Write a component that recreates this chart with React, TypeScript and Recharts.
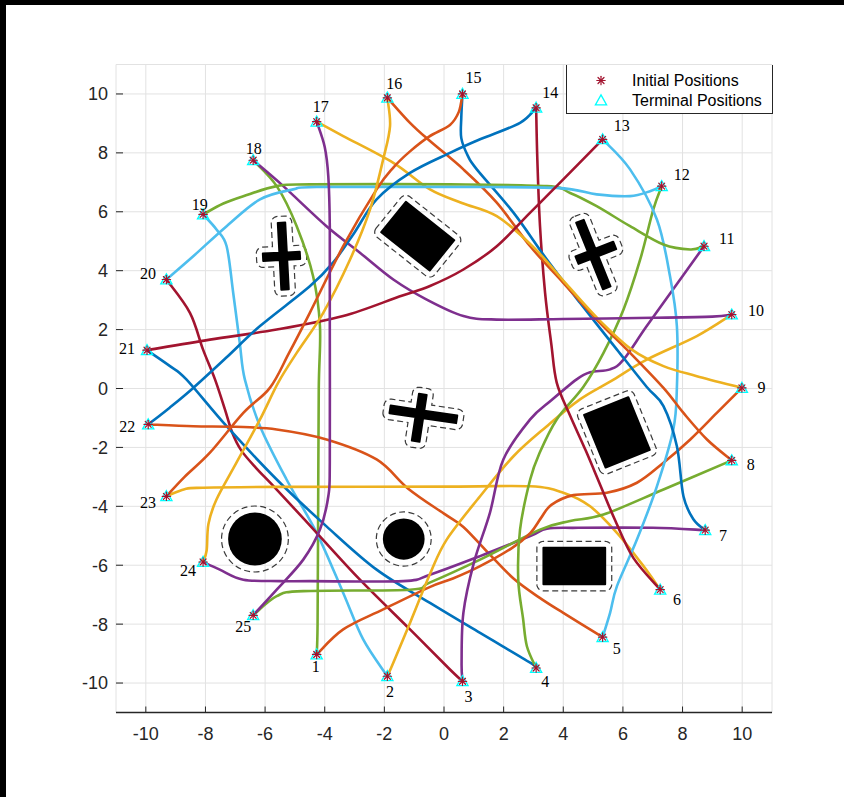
import React from 'react';
import {
  ComposedChart,
  Line,
  Scatter,
  XAxis,
  YAxis,
  CartesianGrid,
  ReferenceArea,
  Legend,
} from 'recharts';

type XY = [number, number];

// ---- axes ----
const DOMAIN: XY = [-11, 11];
const X_TICKS = [-10, -8, -6, -4, -2, 0, 2, 4, 6, 8, 10];
const Y_TICKS = [-10, -8, -6, -4, -2, 0, 2, 4, 6, 8, 10];

// ---- agents (initial and terminal positions coincide on the ring) ----
const agentLabels = ['1', '2', '3', '4', '5', '6', '7', '8', '9', '10', '11', '12', '13', '14', '15', '16', '17', '18', '19', '20', '21', '22', '23', '24', '25'];
const agentX = [-4.27, -1.9, 0.62, 3.09, 5.32, 7.25, 8.76, 9.65, 9.99, 9.65, 8.72, 7.3, 5.32, 3.09, 0.62, -1.9, -4.27, -6.4, -8.08, -9.31, -9.96, -9.92, -9.31, -8.08, -6.4];
const agentY = [-9.03, -9.77, -9.94, -9.49, -8.44, -6.83, -4.81, -2.44, 0.02, 2.51, 4.83, 6.87, 8.46, 9.53, 10.0, 9.87, 9.06, 7.75, 5.91, 3.7, 1.3, -1.22, -3.66, -5.89, -7.7];

// label placement next to each agent, in pixels
const labelOffsets: XY[] = [
  [-1, 12.5], [2.7, 15], [6, 15], [9, 13.4], [14, 11.6], [16.7, 10], [17.7, 5.3], [19, 4], [19.5, 0],
  [24.3, -4.3], [22.7, -7.7], [20, -11.7], [19, -14.3], [14, -15], [11, -16], [7, -14.3], [4, -15],
  [0.7, -11.4], [-3.3, -10], [-18.4, -6], [-20, -1.4], [-21, 1.7], [-18.4, 6], [-15, 8.4], [-10, 11],
];

// ---- trajectories ----
const path1to9: XY[] = [[-4.27, -9.03], [-3.38, -8.18], [-2.04, -7.5], [-0.5, -6.75], [0.3, -6.45], [1.21, -6.03], [2.3, -5.4], [2.9, -4.9], [3.25, -4.4], [3.6, -3.95], [4.34, -3.62], [5.46, -3.54], [6.47, -3.2], [7.36, -2.52], [8.26, -1.73], [9.15, -0.83], [9.99, 0.02]];
const path10to2: XY[] = [[9.65, 2.51], [8.48, 1.78], [6.8, 0.98], [5.6, 0.25], [4.56, -0.37], [3.45, -1.28], [2.33, -2.3], [1.21, -3.66], [0.09, -5.13], [-0.47, -6.3], [-1.14, -7.96], [-1.7, -9.31], [-1.9, -9.77]];
const path11to3: XY[] = [[8.72, 4.83], [7.92, 3.7], [6.8, 2.12], [6.02, 0.98], [5.57, 0.65], [4.9, 0.55], [4.45, 0.31], [3.6, -0.4], [2.89, -1.05], [1.99, -2.41], [1.54, -4.22], [1.0, -5.92], [0.65, -7.62], [0.59, -9.31], [0.62, -9.94]];
const path12to4: XY[] = [[7.3, 6.87], [7.02, 6.08], [6.58, 4.38], [6.02, 2.68], [5.35, 1.21], [4.67, 0.05], [3.78, -1.05], [3.2, -2.2], [2.89, -3.09], [2.55, -4.79], [2.49, -6.49], [2.65, -7.8], [2.78, -8.75], [3.09, -9.49]];
const path13to5: XY[] = [[5.32, 8.46], [6.24, 7.44], [7.14, 5.74], [7.58, 3.81], [7.81, 2.12], [7.81, 0.02], [7.69, -1.39], [7.14, -3.32], [6.47, -5.13], [5.8, -6.71], [5.57, -7.62], [5.32, -8.44]];
const path14to6: XY[] = [[3.09, 9.53], [3.13, 7.78], [3.22, 5.51], [3.39, 3.25], [3.6, 1.5], [3.78, 0.2], [4.22, -0.9], [4.75, -2.1], [5.25, -3.3], [5.75, -4.5], [6.35, -5.75], [7.25, -6.83]];
const path15to7: XY[] = [[0.62, 10.0], [0.58, 9.2], [0.58, 8.5], [0.8, 7.9], [1.1, 7.44], [2.33, 5.97], [3.45, 4.38], [4.56, 2.91], [5.8, 1.32], [6.8, 0.05], [7.36, -0.6], [7.81, -1.96], [8.03, -3.66], [8.37, -4.45], [8.76, -4.81]];
const path16to8: XY[] = [[-1.9, 9.87], [-1.14, 9.02], [-0.47, 8.4], [0.65, 7.44], [1.77, 6.31], [2.89, 4.83], [4.0, 3.59], [5.12, 2.34], [6.24, 1.21], [7.36, 0.02], [8.03, -0.83], [8.82, -1.73], [9.65, -2.44]];
const path17to9: XY[] = [[-4.27, 9.06], [-3.38, 8.57], [-1.7, 7.66], [-0.47, 6.76], [0.6, 6.3], [1.77, 5.85], [3.0, 4.8], [4.1, 3.55], [5.2, 2.33], [6.3, 1.32], [7.36, 0.76], [8.48, 0.42], [9.99, 0.02]];
const path18to10: XY[] = [[-6.4, 7.75], [-5.39, 6.87], [-3.94, 5.51], [-2.82, 4.61], [-1.7, 3.7], [-0.58, 3.02], [0.65, 2.46], [1.77, 2.34], [4.0, 2.36], [7.0, 2.4], [9.0, 2.44], [9.65, 2.51]];
const path19to11: XY[] = [[-8.08, 5.91], [-7.4, 6.28], [-6.73, 6.53], [-5.61, 6.87], [-4.5, 6.93], [0.2, 6.93], [3.45, 6.87], [4.23, 6.64], [5.12, 6.19], [6.24, 5.51], [7.36, 4.89], [8.26, 4.72], [8.72, 4.83]];
const path20to12: XY[] = [[-9.31, 3.7], [-8.41, 4.49], [-7.29, 5.51], [-6.17, 6.42], [-5.06, 6.76], [-4.27, 6.84], [0.2, 6.84], [3.78, 6.81], [5.12, 6.59], [6.24, 6.53], [6.91, 6.7], [7.3, 6.87]];
const path13to21: XY[] = [[5.32, 8.46], [4.0, 7.1], [2.89, 5.97], [1.77, 4.83], [0.65, 4.04], [-0.47, 3.48], [-1.5, 3.12], [-3.38, 2.46], [-5.61, 2.0], [-7.85, 1.66], [-9.96, 1.3]];
const path14to22: XY[] = [[3.09, 9.53], [2.55, 9.02], [1.21, 8.46], [0.2, 8.0], [-1.14, 7.32], [-2.26, 6.42], [-3.0, 5.3], [-3.7, 4.3], [-4.5, 3.47], [-6.17, 2.12], [-7.3, 1.05], [-8.41, 0.02], [-9.2, -0.65], [-9.92, -1.22]];
const path15to23: XY[] = [[0.62, 10.0], [0.5, 9.4], [0.2, 8.95], [-0.5, 8.55], [-1.14, 8.05], [-1.7, 7.5], [-2.26, 6.76], [-3.38, 4.83], [-4.5, 2.57], [-5.2, 1.2], [-5.84, 0.02], [-6.73, -0.83], [-7.85, -2.18], [-8.7, -3.0], [-9.31, -3.66]];
const path16to24: XY[] = [[-1.9, 9.87], [-1.81, 8.91], [-2.04, 7.78], [-2.48, 6.08], [-3.15, 4.38], [-4.05, 2.57], [-4.94, 1.21], [-5.56, 0.2], [-6.17, -1.05], [-6.96, -2.52], [-7.63, -3.77], [-7.9, -4.6], [-7.96, -5.5], [-8.08, -5.89]];
const path17to25: XY[] = [[-4.27, 9.06], [-4.0, 8.2], [-3.88, 7.2], [-3.83, 5.51], [-3.83, 2.12], [-3.83, -2.52], [-3.88, -3.66], [-4.16, -4.79], [-4.72, -5.81], [-5.61, -6.83], [-6.4, -7.7]];
const path18to1: XY[] = [[-6.4, 7.75], [-5.61, 6.87], [-4.94, 5.51], [-4.39, 3.81], [-4.16, 2.12], [-4.2, 0.0], [-4.22, -4.0], [-4.24, -8.0], [-4.27, -9.03]];
const path19to2: XY[] = [[-8.08, 5.91], [-7.63, 5.4], [-7.29, 4.83], [-7.07, 3.25], [-6.85, 1.55], [-6.68, 0.31], [-6.17, -1.28], [-5.28, -3.09], [-4.27, -4.9], [-3.38, -6.94], [-2.71, -8.52], [-1.9, -9.77]];
const path20to3: XY[] = [[-9.31, 3.7], [-8.52, 2.57], [-8.08, 1.32], [-7.68, 0.31], [-7.35, -0.7], [-7.1, -1.5], [-6.8, -2.1], [-6.3, -2.7], [-5.61, -3.43], [-4.27, -4.9], [-2.82, -6.49], [-1.14, -8.18], [0.2, -9.54], [0.62, -9.94]];
const path21to4: XY[] = [[-9.96, 1.3], [-9.19, 0.76], [-8.64, 0.31], [-7.29, -1.28], [-5.61, -3.09], [-3.94, -4.68], [-2.26, -6.15], [-0.47, -7.28], [1.21, -8.3], [2.89, -9.31], [3.09, -9.49]];
const path22to5: XY[] = [[-9.92, -1.22], [-8.41, -1.28], [-7.0, -1.3], [-5.61, -1.39], [-3.94, -1.73], [-2.26, -2.41], [-1.2, -3.4], [0.0, -4.25], [0.65, -4.7], [1.5, -5.6], [2.33, -6.45], [3.2, -7.1], [4.0, -7.62], [5.32, -8.44]];
const path23to6: XY[] = [[-9.31, -3.66], [-8.7, -3.42], [-8.08, -3.37], [-5.61, -3.34], [0.2, -3.33], [2.89, -3.32], [4.0, -3.54], [4.9, -4.0], [5.8, -4.9], [6.69, -6.03], [7.25, -6.83]];
const path24to7: XY[] = [[-8.08, -5.89], [-7.52, -6.15], [-6.73, -6.49], [-5.5, -6.54], [-4.5, -6.54], [-1.37, -6.54], [-0.47, -6.32], [1.21, -5.69], [2.89, -5.01], [3.45, -4.76], [4.5, -4.73], [7.0, -4.73], [8.76, -4.81]];
const path25to8: XY[] = [[-6.4, -7.7], [-5.61, -7.05], [-4.72, -6.88], [-1.14, -6.83], [-0.5, -6.6], [1.21, -5.81], [3.22, -4.79], [4.23, -4.5], [5.35, -4.28], [7.36, -3.43], [9.65, -2.44]];

// ---- obstacles ----
const obstacleRects = [
  { cx: -0.88, cy: 5.17, w: 2.08, h: 1.32, angle: -38.7 },
  { cx: 5.8, cy: -1.49, w: 1.6, h: 1.93, angle: 22 },
  { cx: 4.37, cy: -6.03, w: 2.07, h: 1.24, angle: 0 },
];
const obstacleCircles = [
  { cx: -6.34, cy: -5.11, r: 0.9 },
  { cx: -1.35, cy: -5.11, r: 0.7 },
];
const obstacleCrosses = [
  { cx: -5.39, cy: 4.49, angle: -87, armA: [-1.14, 1.13], armB: [-0.68, 0.56], w: 0.25 },
  { cx: 5.0, cy: 4.57, angle: -68.3, armA: [-1.19, 1.24], armB: [-0.58, 0.78], w: 0.27 },
  { cx: -0.81, cy: -0.86, angle: -8.6, armA: [-1.01, 1.25], armB: [-0.94, 0.67], w: 0.26 },
];
const SAFETY_MARGIN = 0.22;

const COLORS = {
  blue: '#0072BD',
  orange: '#D95319',
  yellow: '#EDB120',
  purple: '#7E2F8E',
  green: '#77AC30',
  sky: '#4DBEEE',
  crimson: '#A2142F',
};

const toPoints = (p: XY[]) => p.map(([x, y]) => ({ x, y }));

const trajectories = [
  { id: 't1', data: toPoints(path18to1), color: COLORS.green },
  { id: 't2', data: toPoints(path19to2), color: COLORS.sky },
  { id: 't3', data: toPoints(path20to3), color: COLORS.crimson },
  { id: 't4', data: toPoints(path21to4), color: COLORS.blue },
  { id: 't5', data: toPoints(path22to5), color: COLORS.orange },
  { id: 't6', data: toPoints(path23to6), color: COLORS.yellow },
  { id: 't7', data: toPoints(path24to7), color: COLORS.purple },
  { id: 't8', data: toPoints(path25to8), color: COLORS.green },
  { id: 't9', data: toPoints(path1to9), color: COLORS.orange },
  { id: 't10', data: toPoints(path10to2), color: COLORS.yellow },
  { id: 't11', data: toPoints(path11to3), color: COLORS.purple },
  { id: 't12', data: toPoints(path12to4), color: COLORS.green },
  { id: 't13', data: toPoints(path13to5), color: COLORS.sky },
  { id: 't14', data: toPoints(path14to6), color: COLORS.crimson },
  { id: 't15', data: toPoints(path15to7), color: COLORS.blue },
  { id: 't16', data: toPoints(path16to8), color: COLORS.orange },
  { id: 't17', data: toPoints(path17to9), color: COLORS.yellow },
  { id: 't18', data: toPoints(path18to10), color: COLORS.purple },
  { id: 't19', data: toPoints(path19to11), color: COLORS.green },
  { id: 't20', data: toPoints(path20to12), color: COLORS.sky },
  { id: 't21', data: toPoints(path13to21), color: COLORS.crimson },
  { id: 't22', data: toPoints(path14to22), color: COLORS.blue },
  { id: 't23', data: toPoints(path15to23), color: COLORS.orange },
  { id: 't24', data: toPoints(path16to24), color: COLORS.yellow },
  { id: 't25', data: toPoints(path17to25), color: COLORS.purple },
];

const agents = agentX.map((x, i) => ({ x, y: agentY[i], i }));

// Catmull-Rom spline through every waypoint (d3 curve-factory interface)
const throughPoints = (context: any) => {
  let pts: XY[] = [];
  return {
    areaStart() {},
    areaEnd() {},
    lineStart() {
      pts = [];
    },
    point(x: number, y: number) {
      pts.push([+x, +y]);
    },
    lineEnd() {
      const n = pts.length;
      if (!n) return;
      context.moveTo(pts[0][0], pts[0][1]);
      for (let i = 0; i < n - 1; i++) {
        const p0 = pts[Math.max(i - 1, 0)];
        const p1 = pts[i];
        const p2 = pts[i + 1];
        const p3 = pts[Math.min(i + 2, n - 1)];
        context.bezierCurveTo(
          p1[0] + (p2[0] - p0[0]) / 6,
          p1[1] + (p2[1] - p0[1]) / 6,
          p2[0] - (p3[0] - p1[0]) / 6,
          p2[1] - (p3[1] - p1[1]) / 6,
          p2[0],
          p2[1],
        );
      }
    },
  };
};

// ---- geometry helpers for obstacles ----
const rot = (u: number, v: number, deg: number): XY => {
  const a = (deg * Math.PI) / 180;
  return [u * Math.cos(a) - v * Math.sin(a), u * Math.sin(a) + v * Math.cos(a)];
};

const place = (local: XY[], cx: number, cy: number, angle: number): XY[] =>
  local.map(([u, v]) => {
    const [dx, dy] = rot(u, v, angle);
    return [cx + dx, cy + dy];
  });

const rectPolygon = (o: any): XY[] => {
  const hw = o.w / 2;
  const hh = o.h / 2;
  return place([[-hw, -hh], [hw, -hh], [hw, hh], [-hw, hh]], o.cx, o.cy, o.angle);
};

const crossPolygon = (o: any): XY[] => {
  const h = o.w / 2;
  const [a0, a1] = o.armA;
  const [b0, b1] = o.armB;
  return place(
    [[a0, -h], [-h, -h], [-h, b0], [h, b0], [h, -h], [a1, -h], [a1, h], [h, h], [h, b1], [-h, b1], [-h, h], [a0, h]],
    o.cx,
    o.cy,
    o.angle,
  );
};

// outline at distance d around a counter-clockwise polygon, rounded at convex corners
const inflate = (poly: XY[], d: number, steps = 8): XY[] => {
  const n = poly.length;
  const out: XY[] = [];
  const unit = (a: XY, b: XY): XY => {
    const dx = b[0] - a[0];
    const dy = b[1] - a[1];
    const l = Math.hypot(dx, dy) || 1;
    return [dx / l, dy / l];
  };
  for (let i = 0; i < n; i++) {
    const p0 = poly[(i - 1 + n) % n];
    const p1 = poly[i];
    const p2 = poly[(i + 1) % n];
    const t1 = unit(p0, p1);
    const t2 = unit(p1, p2);
    const n1: XY = [t1[1], -t1[0]];
    const n2: XY = [t2[1], -t2[0]];
    const turn = t1[0] * t2[1] - t1[1] * t2[0];
    if (turn > 1e-9) {
      const s = Math.atan2(n1[1], n1[0]);
      let e = Math.atan2(n2[1], n2[0]);
      while (e < s) e += 2 * Math.PI;
      for (let k = 0; k <= steps; k++) {
        const a = s + ((e - s) * k) / steps;
        out.push([p1[0] + d * Math.cos(a), p1[1] + d * Math.sin(a)]);
      }
    } else if (turn < -1e-9) {
      const dot = n1[0] * n2[0] + n1[1] * n2[1];
      const s = d / (1 + dot);
      out.push([p1[0] + (n1[0] + n2[0]) * s, p1[1] + (n1[1] + n2[1]) * s]);
    } else {
      out.push([p1[0] + n1[0] * d, p1[1] + n1[1] * d]);
    }
  }
  return out;
};

const renderObstacles = (props: any) => {
  const { x, y, width, height } = props;
  const span = DOMAIN[1] - DOMAIN[0];
  const px = (v: number) => x + ((v - DOMAIN[0]) / span) * width;
  const py = (v: number) => y + ((DOMAIN[1] - v) / span) * height;
  const toPath = (poly: XY[]) =>
    poly.map(([a, b], i) => `${i ? 'L' : 'M'}${px(a).toFixed(2)},${py(b).toFixed(2)}`).join('') + 'Z';
  const polys = [...obstacleRects.map(rectPolygon), ...obstacleCrosses.map(crossPolygon)];
  const sx = width / span;
  const sy = height / span;
  return (
    <g className="obstacles">
      {polys.map((poly, i) => (
        <g key={`p${i}`}>
          <path d={toPath(inflate(poly, SAFETY_MARGIN))} fill="none" stroke="#3a3a3a" strokeWidth={1.2} strokeDasharray="6 3.5" />
          <path d={toPath(poly)} fill="#000" stroke="#000" strokeWidth={2} strokeLinejoin="round" />
        </g>
      ))}
      {obstacleCircles.map((c, i) => (
        <g key={`c${i}`}>
          <ellipse
            cx={px(c.cx)}
            cy={py(c.cy)}
            rx={(c.r + SAFETY_MARGIN) * sx}
            ry={(c.r + SAFETY_MARGIN) * sy}
            fill="none"
            stroke="#3a3a3a"
            strokeWidth={1.2}
            strokeDasharray="6 3.5"
          />
          <ellipse cx={px(c.cx)} cy={py(c.cy)} rx={c.r * sx} ry={c.r * sy} fill="#000" />
        </g>
      ))}
    </g>
  );
};

const Asterisk = ({ cx, cy }: { cx: number; cy: number }) => {
  const r = 4.2;
  const q = 3.0;
  return (
    <g stroke={COLORS.crimson} strokeWidth={1.2} strokeLinecap="round">
      <line x1={cx} y1={cy - r} x2={cx} y2={cy + r} />
      <line x1={cx - r} y1={cy} x2={cx + r} y2={cy} />
      <line x1={cx - q} y1={cy - q} x2={cx + q} y2={cy + q} />
      <line x1={cx - q} y1={cy + q} x2={cx + q} y2={cy - q} />
    </g>
  );
};

const Triangle = ({ cx, cy }: { cx: number; cy: number }) => (
  <polygon
    points={`${cx},${cy - 5.6} ${cx + 5.6},${cy + 4.4} ${cx - 5.6},${cy + 4.4}`}
    fill="none"
    stroke="#00FFFF"
    strokeWidth={1.3}
    strokeLinejoin="miter"
  />
);

const renderAgent = (props: any) => {
  const { cx, cy, payload } = props;
  if (cx == null || cy == null) return <g />;
  const i = payload.i;
  const [dx, dy] = labelOffsets[i];
  return (
    <g>
      <Triangle cx={cx} cy={cy} />
      <Asterisk cx={cx} cy={cy} />
      <text
        x={cx + dx}
        y={cy + dy}
        textAnchor="middle"
        dominantBaseline="central"
        fontFamily="'Liberation Serif', 'DejaVu Serif', serif"
        fontSize={16}
        fill="#000"
      >
        {agentLabels[i]}
      </text>
    </g>
  );
};

const renderLegend = () => (
  <div
    style={{
      width: 207,
      height: 49,
      boxSizing: 'border-box',
      background: '#fff',
      borderLeft: '1px solid #262626',
      borderRight: '1px solid #262626',
      borderBottom: '1px solid #262626',
    }}
  >
    <svg width={205} height={48} style={{ display: 'block' }}>
      <Asterisk cx={34} cy={15.5} />
      <text x={65} y={15.5} dominantBaseline="central" fontFamily="'Liberation Sans', Arial, sans-serif" fontSize={16} fill="#000">
        Initial Positions
      </text>
      <Triangle cx={34} cy={35.5} />
      <text x={65} y={35.5} dominantBaseline="central" fontFamily="'Liberation Sans', Arial, sans-serif" fontSize={16} fill="#000">
        Terminal Positions
      </text>
    </svg>
  </div>
);

const tickStyle = { fill: '#262626', fontSize: 18, fontFamily: "'Liberation Sans', Arial, sans-serif" };

export default function App() {
  return (
    <div style={{ position: 'absolute', left: 0, top: 0, width: 844, height: 797, background: '#000', overflow: 'hidden' }}>
      <div style={{ position: 'absolute', left: 6, top: 5, width: 838, height: 792, background: '#fff' }} />
      <div style={{ position: 'absolute', left: 0, top: 0 }}>
        <ComposedChart
          width={844}
          height={797}
          margin={{ top: 64.5, right: 72, bottom: 0, left: 0 }}
          style={{ fontFamily: "'Liberation Sans', Arial, sans-serif" }}
        >
          <CartesianGrid stroke="#e2e2e2" strokeWidth={1} />
          <XAxis
            type="number"
            dataKey="x"
            domain={DOMAIN}
            ticks={X_TICKS}
            interval={0}
            allowDataOverflow
            height={84.5}
            tickSize={-6}
            tickMargin={20.5}
            axisLine={{ stroke: '#262626', strokeWidth: 1.3 }}
            tickLine={{ stroke: '#262626' }}
            tick={tickStyle}
          />
          <YAxis
            type="number"
            dataKey="y"
            domain={DOMAIN}
            ticks={Y_TICKS}
            interval={0}
            allowDataOverflow
            width={116}
            tickSize={-7}
            tickMargin={15}
            axisLine={false}
            tickLine={{ stroke: '#262626' }}
            tick={tickStyle}
          />
          <ReferenceArea
            x1={DOMAIN[0]}
            x2={DOMAIN[1]}
            y1={DOMAIN[0]}
            y2={DOMAIN[1]}
            ifOverflow="visible"
            shape={renderObstacles}
          />
          {trajectories.map((t) => (
            <Line
              key={t.id}
              data={t.data}
              dataKey="y"
              type={throughPoints as any}
              stroke={t.color}
              strokeWidth={2.6}
              dot={false}
              activeDot={false}
              isAnimationActive={false}
              legendType="none"
            />
          ))}
          <Scatter data={agents} shape={renderAgent} isAnimationActive={false} legendType="none" />
          <Legend
            layout="vertical"
            align="center"
            verticalAlign="middle"
            content={renderLegend}
            wrapperStyle={{ position: 'absolute', left: 566, top: 65, width: 207, height: 49, margin: 0, padding: 0 }}
          />
        </ComposedChart>
      </div>
    </div>
  );
}
